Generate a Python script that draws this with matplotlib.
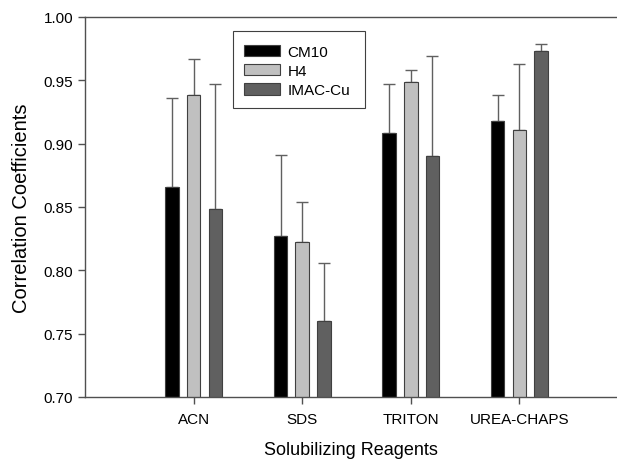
import matplotlib
matplotlib.use("Agg")
import matplotlib.pyplot as plt
from matplotlib.patches import Rectangle
import numpy as np

plt.rcParams['font.family'] = ['Liberation Sans', 'DejaVu Sans']

categories = ['ACN', 'SDS', 'TRITON', 'UREA-CHAPS']
series_names = ['CM10', 'H4', 'IMAC-Cu']
colors = ['#000000', '#c0c0c0', '#606060']

# mean values and upper error bars
cm10 = [0.866, 0.827, 0.908, 0.918]
h4 = [0.938, 0.822, 0.949, 0.911]
imac = [0.848, 0.760, 0.890, 0.973]
cm10_err = [0.070, 0.064, 0.039, 0.020]
h4_err = [0.029, 0.032, 0.009, 0.052]
imac_err = [0.099, 0.046, 0.079, 0.006]

values = [cm10, h4, imac]
errors = [cm10_err, h4_err, imac_err]

fig = plt.figure(figsize=(6.17, 4.60), dpi=100)
ax = fig.add_axes([0.138, 0.135, 0.862, 0.826])

x = np.arange(1, len(categories) + 1)
offsets = [-0.2, 0.0, 0.2]
width = 0.125
spine_col = '#505050'

for vals, errs, off, col, name in zip(values, errors, offsets, colors, series_names):
    ax.bar(x + off, vals, width, color=col, edgecolor='#404040', linewidth=0.8, label=name, zorder=2)
    ax.errorbar(x + off, vals, yerr=[np.zeros(len(errs)), errs], fmt='none',
                ecolor='#606060', elinewidth=1.0, capsize=4, capthick=1.0, zorder=1)

ax.set_ylim(0.70, 1.00)
ax.set_xlim(0.0, 4.9)
yt = np.arange(0.70, 1.001, 0.05)
ax.set_yticks(yt)
ax.set_yticklabels([f'{v:.2f}' for v in yt])
ax.set_xticks(x)
ax.set_xticklabels(categories)

for side in ['left', 'bottom', 'top']:
    ax.spines[side].set_color(spine_col)
    ax.spines[side].set_linewidth(1.0)
ax.spines['right'].set_visible(False)
ax.tick_params(axis='both', colors=spine_col, labelcolor='#000000', labelsize=11, length=5, width=1.0)
ax.tick_params(axis='x', pad=6)

ax.set_xlabel('Solubilizing Reagents', fontsize=13, labelpad=11)
ax.set_ylabel('Correlation Coefficients', fontsize=14.5, labelpad=9)

# legend box drawn separately (tall padding above/below entries)
box = Rectangle((233 / 617, 1 - 109 / 460), 132 / 617, 77 / 460,
                transform=fig.transFigure, facecolor='white',
                edgecolor='#404040', linewidth=0.8, zorder=4, clip_on=False)
ax.add_patch(box)
leg = ax.legend(loc='upper left', bbox_to_anchor=(244 / 617, 1 - 46 / 460),
                bbox_transform=fig.transFigure, fontsize=11, frameon=False,
                handlelength=2.35, handleheight=0.75, handletextpad=0.5,
                borderpad=0, borderaxespad=0, labelspacing=0.34)
leg.set_zorder(5)

fig.savefig('out.png', dpi=100)
